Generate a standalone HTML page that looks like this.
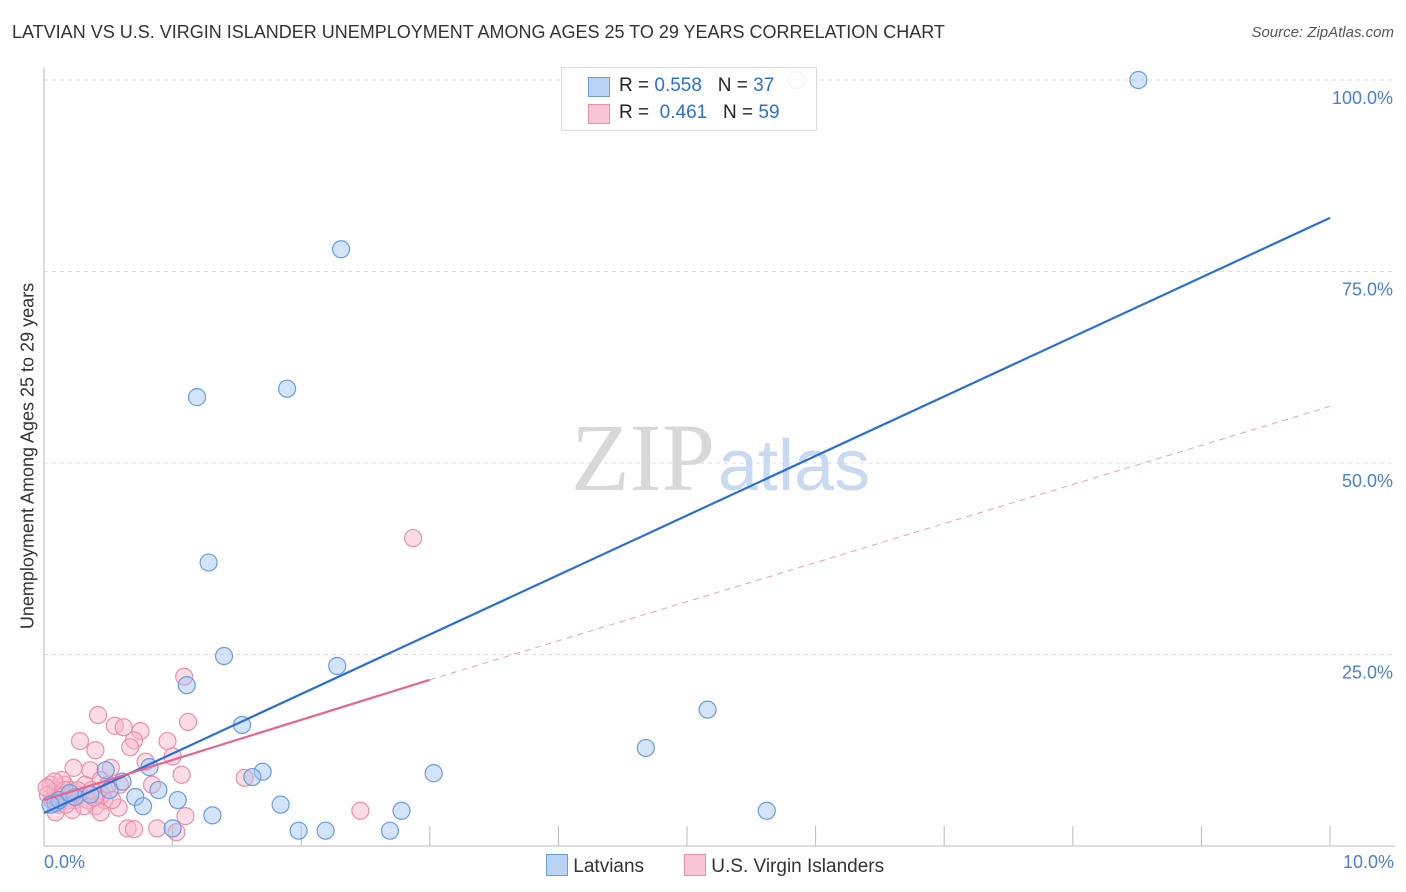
<!DOCTYPE html>
<html><head><meta charset="utf-8"><style>
body{margin:0;background:#fff;font-family:"Liberation Sans",sans-serif;}
#wrap{position:relative;width:1406px;height:892px;overflow:hidden;}
.t{position:absolute;white-space:nowrap;}
</style></head><body>
<div id="wrap">
<div class="t" style="left:12px;top:22px;font-size:18px;color:#333;">LATVIAN VS U.S. VIRGIN ISLANDER UNEMPLOYMENT AMONG AGES 25 TO 29 YEARS CORRELATION CHART</div>
<div class="t" style="right:12px;top:24px;font-size:15px;color:#555;font-style:italic;">Source: ZipAtlas.com</div>
<svg id="plot" width="1406" height="892" style="position:absolute;left:0;top:0"></svg>
</div>
<script>
const xTicks=[0,1,2,3,4,5,6,7,8,9,10];
const yTicks=[25,50,75,100];
const yTickLabels=["25.0%","50.0%","75.0%","100.0%"];
const latX=[5.85,8.51,2.31,1.19,1.89,1.28,1.40,1.11,2.28,1.54,5.16,4.68,3.03,1.70,1.62,0.82,0.61,0.48,0.89,0.71,1.04,0.77,1.84,2.78,5.62,1.31,1.98,2.19,2.69,1.00,0.09,0.12,0.05,0.24,0.36,0.51,0.20];
const latY=[100,100,77.9,58.6,59.7,37.0,24.8,21.0,23.5,15.8,17.8,12.8,9.5,9.7,9.0,10.3,8.4,9.9,7.3,6.4,6.0,5.2,5.4,4.6,4.6,4.0,2.0,2.0,2.0,2.3,5.6,6.0,5.4,6.4,6.7,7.3,6.9];
const usvX=[2.87,1.09,1.12,0.42,0.28,0.55,0.62,0.75,0.70,0.40,0.67,0.96,1.00,0.79,0.52,1.07,1.56,0.36,0.23,0.44,0.59,0.84,0.47,0.40,0.44,0.58,0.65,0.70,0.88,1.03,1.10,2.46,0.05,0.09,0.06,0.12,0.16,0.20,0.24,0.28,0.32,0.03,0.11,0.14,0.19,0.22,0.26,0.34,0.37,0.45,0.50,0.53,0.09,0.16,0.31,0.17,0.08,0.02,0.39];
const usvY=[40.2,22.1,16.2,17.1,13.7,15.7,15.5,15.0,13.8,12.5,12.9,13.7,11.7,11.0,10.2,9.3,8.9,9.9,10.2,8.6,8.0,8.0,6.0,5.2,4.4,5.0,2.3,2.2,2.3,1.8,3.9,4.6,8.0,7.3,6.0,6.7,8.0,7.3,6.0,6.7,8.0,6.7,5.4,8.6,6.0,4.7,7.3,6.0,7.3,6.7,8.0,6.0,4.4,7.3,5.2,5.4,8.4,7.6,6.3];
const latTrend=[4.3,82.0];
const usvTrend=[6.0,21.7,57.4];
const L=44,R=1330,T=80,B=846;
const xs=v=>L+(R-L)*v/10, ys=v=>B-(B-T)*v/100;
const svg=document.getElementById('plot');const NS='http://www.w3.org/2000/svg';
function mk(tag,a){const e=document.createElementNS(NS,tag);for(const k in a)e.setAttribute(k,a[k]);svg.appendChild(e);return e;}
yTicks.forEach((v,i)=>{
 const g=mk('line',{x1:L,x2:1395,y1:ys(v),y2:ys(v),stroke:'#ddd','stroke-dasharray':'4,4'});
 
 
 const t=mk('text',{x:1393,y:ys(v)+24,'text-anchor':'end','font-size':18,fill:'#4a7fd4'});t.textContent=yTickLabels[i];
 
 
});
xTicks.forEach(v=>{if(v===0)return;
 const l=mk('line',{x1:xs(v),x2:xs(v),y1:826,y2:846,stroke:'#bbb'});
 
 
});
const ax=mk('line',{x1:L,x2:1395,y1:846,y2:846,stroke:'#bbb'});


const ay=mk('line',{x1:L,x2:L,y1:68,y2:846,stroke:'#bbb'});


const w1=mk('text',{x:715,y:490,'text-anchor':'end','font-size':96,fill:'#d8d8d8','font-family':'Liberation Serif'});w1.textContent='ZIP';


const w2=mk('text',{x:718,y:490,'font-size':72,fill:'#c9d9f0'});w2.textContent='atlas';


usvX.forEach((x,i)=>{const c=mk('circle',{cx:xs(x),cy:ys(usvY[i]),r:8.5,fill:'rgba(248,180,200,0.45)',stroke:'#ec8fab','stroke-width':1.2});
 
 });
latX.forEach((x,i)=>{const c=mk('circle',{cx:xs(x),cy:ys(latY[i]),r:8.5,fill:'rgba(160,196,240,0.45)',stroke:'#6b9be0','stroke-width':1.2});
 
 });
const lt=mk('line',{x1:xs(0),y1:ys(latTrend[0]),x2:xs(10),y2:ys(latTrend[1]),stroke:'#2a6fd6','stroke-width':2.2});


const ut=mk('line',{x1:xs(0),y1:ys(usvTrend[0]),x2:xs(3),y2:ys(usvTrend[1]),stroke:'#e8658f','stroke-width':2.2});


const ud=mk('line',{x1:xs(3),y1:ys(usvTrend[1]),x2:xs(10),y2:ys(usvTrend[2]),stroke:'#e8a0b6','stroke-width':1,'stroke-dasharray':'6,5'});


</script>
<div class="t" style="left:28px;top:456px;transform:translate(-50%,-50%) rotate(-90deg);font-size:18px;color:#333;">Unemployment Among Ages 25 to 29 years</div>
<div class="t" style="left:44px;top:852px;font-size:18px;color:#4a7fd4;">0.0%</div>
<div class="t" style="right:12px;top:852px;font-size:18px;color:#4a7fd4;">10.0%</div>
<div style="position:absolute;left:561px;top:67px;width:254px;height:62px;border:1px solid #ddd;background:rgba(255,255,255,0.9);font-size:19px;">
 <div style="position:absolute;left:26px;top:9px;width:20px;height:18px;background:#b9d3f5;border:1px solid #6b9be0"></div>
 <div class="t" style="left:57px;top:7px;color:#222">R = <span style="color:#2a6fd6">0.558</span>&nbsp;&nbsp;&nbsp;N = <span style="color:#2a6fd6">37</span></div>
 <div style="position:absolute;left:26px;top:36px;width:20px;height:18px;background:#f8c6d4;border:1px solid #ec8fab"></div>
 <div class="t" style="left:57px;top:34px;color:#222">R = &nbsp;<span style="color:#2a6fd6">0.461</span>&nbsp;&nbsp;&nbsp;N = <span style="color:#2a6fd6">59</span></div>
</div>
<div style="position:absolute;left:546px;top:854px;font-size:19px;color:#333">
 <span style="display:inline-block;width:20px;height:20px;background:#b9d3f5;border:1px solid #6b9be0;vertical-align:-4px"></span> Latvians</div>
<div style="position:absolute;left:684px;top:854px;font-size:19px;color:#333">
 <span style="display:inline-block;width:20px;height:20px;background:#f8c6d4;border:1px solid #ec8fab;vertical-align:-4px"></span> U.S. Virgin Islanders</div>
</body></html>
